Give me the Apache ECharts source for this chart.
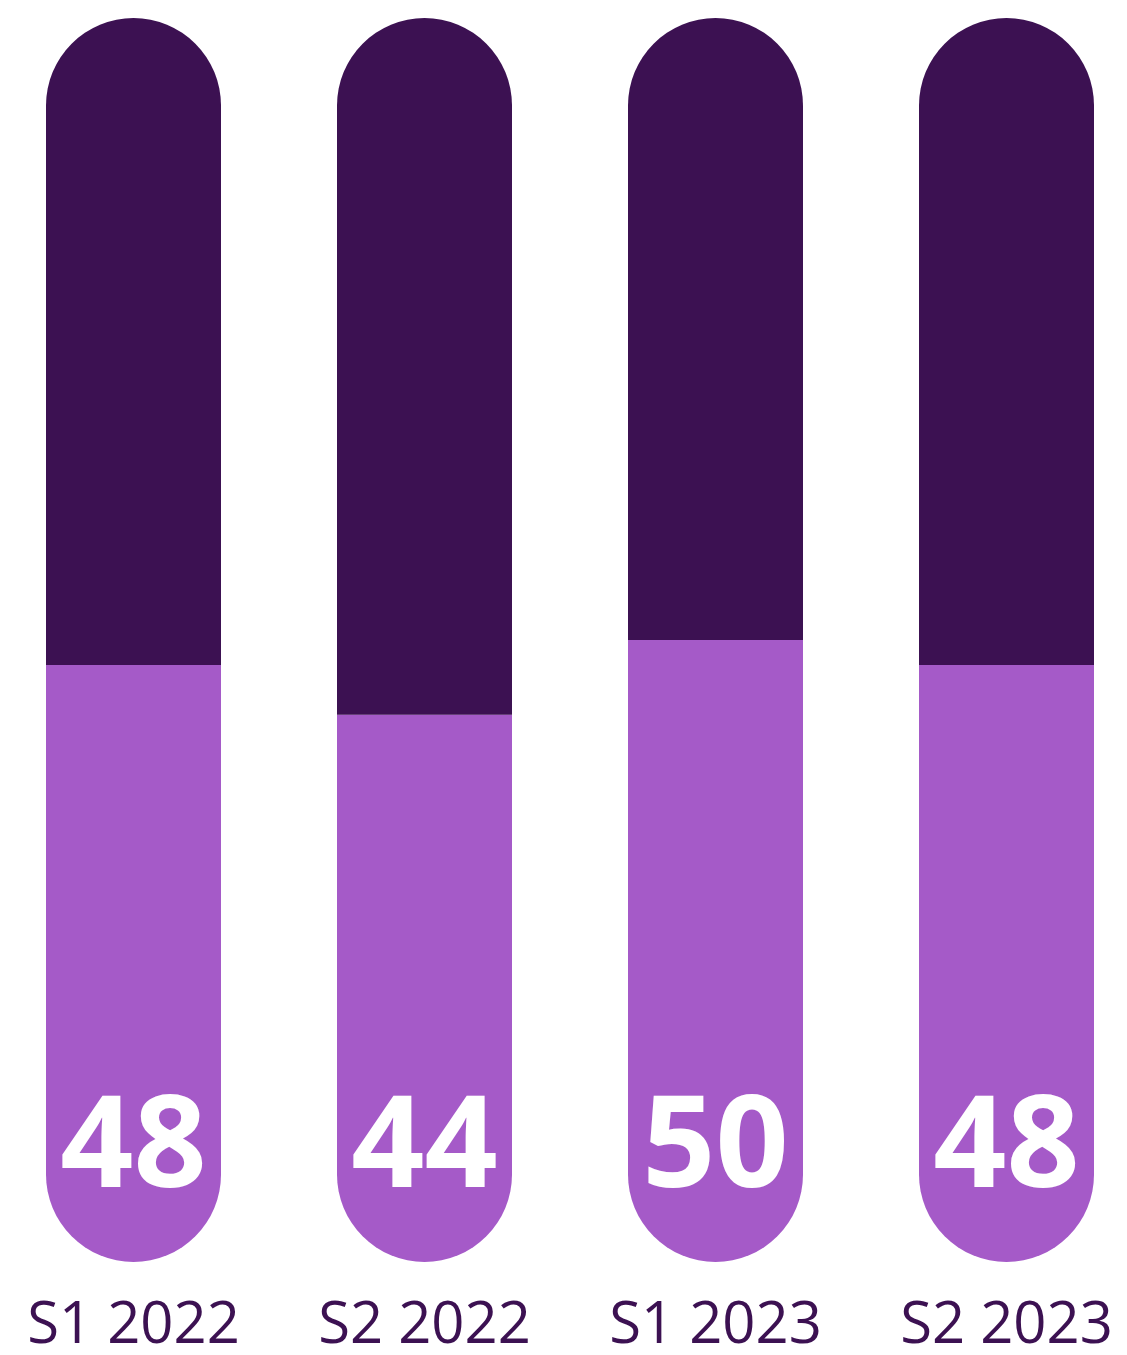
<!DOCTYPE html>
<html>
<head>
<meta charset="utf-8">
<script src="https://cdn.jsdelivr.net/npm/echarts@6/dist/echarts.min.js"></script>
<style>html,body{margin:0;padding:0;background:#fff}#c{width:1127px;height:1355px}</style>
</head>
<body>
<div id="c"></div>
<script>
const categories = ['S1 2022', 'S2 2022', 'S1 2023', 'S2 2023'];
const values = [48, 44, 50, 48];
const total = 100;
const remainder = values.map(v => total - v);

const DARK = '#3C1152';
const LIGHT = '#A55AC8';

const chart = echarts.init(document.getElementById('c'), null, {renderer: 'canvas'});
chart.setOption({
  animation: false,
  grid: {left: -12, width: 1164, top: 18, bottom: 93, containLabel: false, outerBoundsMode: 'none'},
  xAxis: {
    type: 'category',
    data: categories,
    axisLine: {show: false},
    axisTick: {show: false},
    axisLabel: {
      color: DARK,
      fontFamily: 'Open Sans',
      fontSize: 58,
      margin: 35
    }
  },
  yAxis: {type: 'value', min: 0, max: total, show: false, splitLine: {show: false}},
  series: [
    {
      type: 'bar',
      stack: 'a',
      data: values,
      barWidth: 175,
      itemStyle: {color: LIGHT, borderRadius: [0, 0, 87.5, 87.5]},
      label: {
        show: true,
        position: 'insideBottom',
        distance: 47,
        color: '#fff',
        fontFamily: 'Open Sans',
        fontWeight: 700,
        fontSize: 128
      }
    },
    {
      type: 'bar',
      stack: 'a',
      data: remainder,
      barWidth: 175,
      itemStyle: {color: DARK, borderRadius: [87.5, 87.5, 0, 0]}
    }
  ]
});
</script>
</body>
</html>
